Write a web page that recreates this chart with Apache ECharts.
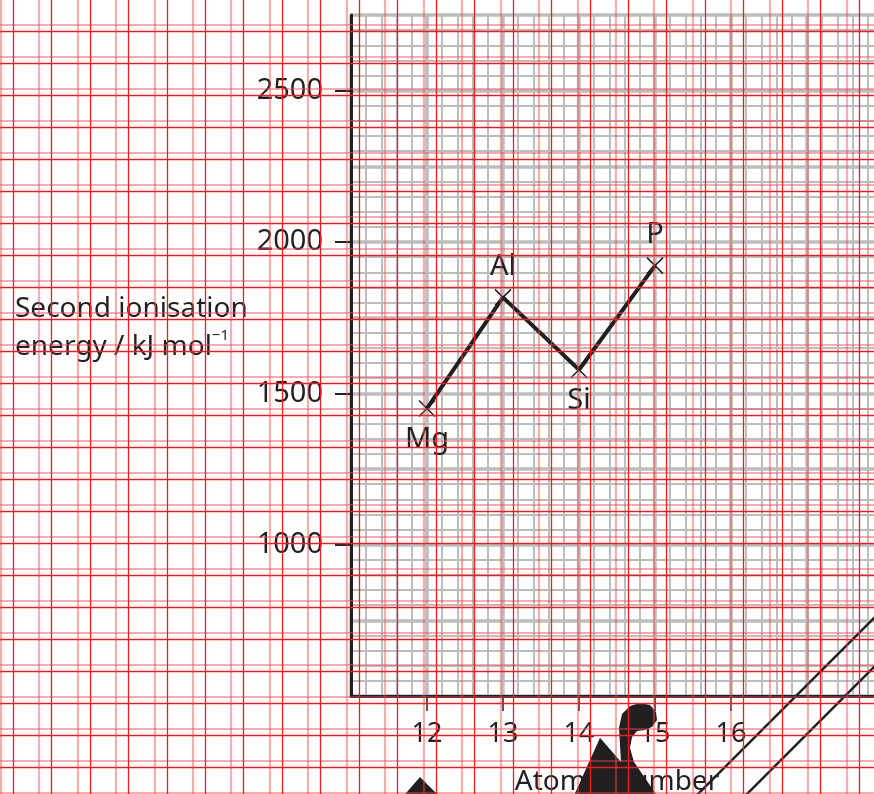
<!DOCTYPE html>
<html>
<head>
<meta charset="utf-8">
<title>Second ionisation energy</title>
<script src="https://cdn.jsdelivr.net/npm/echarts@6/dist/echarts.min.js"></script>
<style>
  html, body { margin: 0; padding: 0; background: #fff; }
  #chart { width: 874px; height: 794px; }
</style>
</head>
<body>
<div id="chart"></div>
<script>
// second ionisation energy (kJ/mol) against atomic number
const elements = ['Mg', 'Al', 'Si', 'P'];
const atomicNumbers = [12, 13, 14, 15];
const ionisationEnergies = [1450, 1817, 1578, 1922];

const xTicks = [12, 13, 14, 15, 16];
const yTicks = [1000, 1500, 2000, 2500];

const ink = '#231f20';
const font = 'Noto Sans';
const paperGray = '#bdbdbd';
const redDark = '#ec1c24';
const redLight = 'rgba(242, 70, 80, 0.45)';

const chart = echarts.init(document.getElementById('chart'));

const noAxisParts = {
  axisLine: { show: false },
  axisTick: { show: false },
  axisLabel: { show: false }
};

// red guide lines laid over the whole picture: one grid per set of lines
function guideAxis(gridIndex, cells, inverse, line) {
  return Object.assign({
    type: 'value', gridIndex: gridIndex, min: 0, max: cells, interval: 1, inverse: inverse, z: 20,
    splitLine: line ? { show: true, lineStyle: line } : { show: false }
  }, noAxisParts);
}
const vLines = [
  { left: 13, line: { color: redDark, width: 1.3 } },
  { left: 0.5, line: { color: redLight, width: 2.2 } }
];
const hLines = [
  { top: 31, line: { color: redDark, width: 1.3 } },
  { top: 24.7, line: { color: redLight, width: 2.2 } }
];

const grids = [{ left: 351, top: 15, right: -9, bottom: 98, outerBoundsMode: 'none', containLabel: false }];
const guideX = [];
const guideY = [];
vLines.forEach(v => {
  const gi = grids.length;
  grids.push({ left: v.left, top: 0, width: 23 * 38.45, height: 794, outerBoundsMode: 'none' });
  guideX.push(guideAxis(gi, 23, false, v.line));
  guideY.push(guideAxis(gi, 1, false, null));
});
hLines.forEach(h => {
  const gi = grids.length;
  grids.push({ left: 0, top: h.top, width: 874, height: 24 * 32, outerBoundsMode: 'none' });
  guideX.push(guideAxis(gi, 1, false, null));
  guideY.push(guideAxis(gi, 24, true, h.line));
});

const option = {
  animation: false,
  textStyle: { fontFamily: font },
  title: {
    text: 'Second ionisation\nenergy / kJ mol{sup|\u22121}',
    left: 10,
    top: 285,
    textStyle: {
      fontFamily: font,
      fontSize: 28,
      fontWeight: 'normal',
      color: ink,
      lineHeight: 38,
      rich: {
        sup: { fontFamily: font, fontSize: 15, color: ink, verticalAlign: 'top', lineHeight: 24 }
      }
    }
  },
  grid: grids,
  xAxis: [
    {
      type: 'value', gridIndex: 0, min: 11, max: 18, z: 3,
      axisLine: { show: true, onZero: false, lineStyle: { color: ink, width: 3 } },
      axisTick: { show: true, customValues: xTicks, length: 15, lineStyle: { color: ink, width: 1.5 } },
      axisLabel: { show: true, customValues: xTicks, margin: 25, fontSize: 27, color: ink, fontFamily: font },
      splitLine: { show: false },
      name: 'Atomic number',
      nameLocation: 'middle',
      nameGap: 72,
      nameTextStyle: { fontSize: 28, color: ink, fontFamily: font }
    },
    Object.assign({
      type: 'value', gridIndex: 0, min: 11, max: 18, interval: 1, position: 'bottom',
      splitLine: { show: true, lineStyle: { color: paperGray, width: 3.5 } },
      minorTick: { show: false, splitNumber: 5 },
      minorSplitLine: { show: true, lineStyle: { color: paperGray, width: 2 } }
    }, noAxisParts)
  ].concat(guideX),
  yAxis: [
    {
      type: 'value', gridIndex: 0, min: 500, max: 2750, z: 3,
      axisLine: { show: true, onZero: false, lineStyle: { color: ink, width: 3 } },
      axisTick: { show: true, customValues: yTicks, length: 16, lineStyle: { color: ink, width: 2 } },
      axisLabel: {
        show: true, customValues: yTicks, margin: 28, fontSize: 29, color: ink, fontFamily: font,
        padding: [5, 0, 0, 0],
        formatter: v => String(v)
      },
      splitLine: { show: false }
    },
    Object.assign({
      type: 'value', gridIndex: 0, min: 500, max: 2750, interval: 250, position: 'left',
      splitLine: { show: true, lineStyle: { color: paperGray, width: 3.5 } },
      minorTick: { show: false, splitNumber: 5 },
      minorSplitLine: { show: true, lineStyle: { color: paperGray, width: 2 } }
    }, noAxisParts)
  ].concat(guideY),
  series: [
    {
      name: 'Second ionisation energy',
      type: 'line',
      xAxisIndex: 0,
      yAxisIndex: 0,
      data: atomicNumbers.map((x, i) => ({
        value: [x, ionisationEnergies[i]],
        label: { position: i % 2 ? 'top' : 'bottom' }
      })),
      symbol: 'path://M0,0L10,10M10,0L0,10',
      symbolSize: 16,
      itemStyle: { color: 'none', borderColor: ink, borderWidth: 1.5 },
      lineStyle: { color: ink, width: 4 },
      label: {
        show: true,
        distance: 6,
        fontSize: 29,
        color: ink,
        fontFamily: font,
        formatter: p => elements[p.dataIndex]
      },
      emphasis: { disabled: true },
      z: 2
    }
  ],
  // stray black marks along the bottom edge of the scan
  graphic: [
    { type: 'line', z: 10, shape: { x1: 900, y1: 592, x2: 690, y2: 802 }, style: { stroke: ink, lineWidth: 2.5 } },
    { type: 'line', z: 10, shape: { x1: 900, y1: 641, x2: 739, y2: 802 }, style: { stroke: ink, lineWidth: 2.5 } },
    { type: 'polygon', z: 10, shape: { points: [[400, 800], [420, 777], [443, 800]] }, style: { fill: ink } },
    {
      type: 'polygon', z: 10,
      shape: {
        points: [[572, 800], [600, 737.7], [621, 762], [620, 745], [619, 728], [622, 714], [630, 706],
          [640, 703], [650, 705], [656, 712], [657, 720], [652, 727], [645, 730], [637, 731],
          [632, 737], [630, 748], [634, 762], [645, 778], [660, 800]]
      },
      style: { fill: ink }
    }
  ]
};

chart.setOption(option);
window.addEventListener('resize', () => chart.resize());
</script>
</body>
</html>
